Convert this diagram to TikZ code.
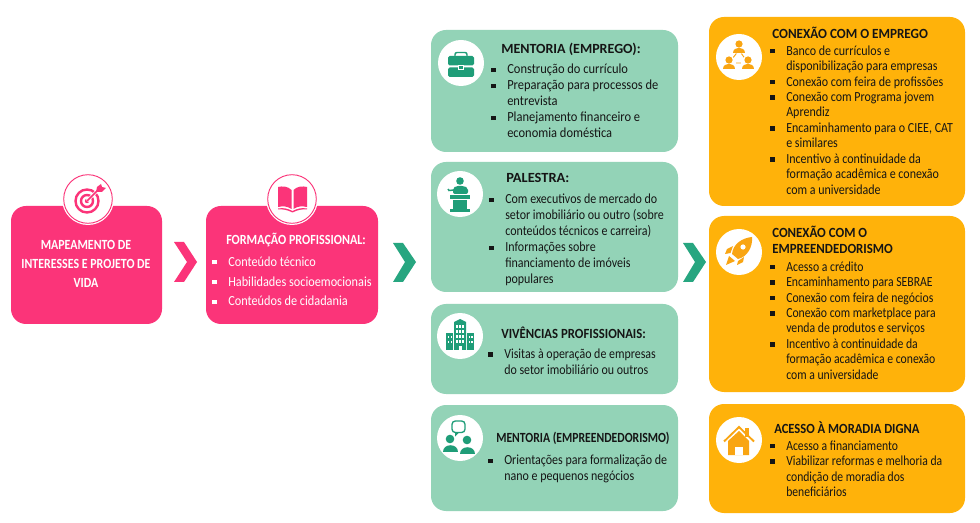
\documentclass[tikz,border=0pt]{standalone}
\usepackage{fontspec}
\setmainfont{Carlito}
\definecolor{pinkbox}{HTML}{FB3479}
\definecolor{greenbox}{HTML}{93D3B7}
\definecolor{orangebox}{HTML}{FFB20A}
\definecolor{chevgreen}{HTML}{27A680}
\definecolor{icongreen}{HTML}{1F9D78}
\definecolor{iconorange}{HTML}{F9A512}
\definecolor{ink}{HTML}{151515}
\newcommand{\itm}{\strut\llap{\rule[0.13em]{0.32em}{0.32em}\hspace{0.82em}}}
\newcommand{\fs}[1]{\fontspec[FakeStretch=#1]{Carlito}}
\tikzset{
 x=0.75pt,y=-0.75pt,
 panel/.style={rounded corners=11.25pt,draw=none,inner sep=0pt},
 disc/.style={circle,fill=white,draw=none,inner sep=0pt},
 ttl/.style={anchor=north west,inner sep=0pt,align=left,text=ink,font=\fs{#1}\fontsize{10.5pt}{12pt}\selectfont\bfseries},
 lsg/.style={anchor=north west,inner sep=0pt,align=left,text=ink,font=\fs{#1}\fontsize{10.4pt}{12pt}\selectfont},
 lso/.style={anchor=north west,inner sep=0pt,align=left,text=ink,font=\fs{#1}\fontsize{10.4pt}{11.6pt}\selectfont},
}
\begin{document}
\begin{tikzpicture}
\useasboundingbox (0,0) rectangle (980,523);
\fill[white] (0,0) rectangle (980,523);
% panels
\node[panel,fill=pinkbox,minimum width=113.25pt,minimum height=88.5pt] (p1) at (86.5,265) {};
\node[panel,fill=pinkbox,minimum width=129pt,minimum height=88.5pt] (p2) at (292,265) {};
\node[panel,fill=greenbox,minimum width=185.25pt,minimum height=91.5pt] (g1) at (554.5,91) {};
\node[panel,fill=greenbox,minimum width=185.25pt,minimum height=97.5pt] (g2) at (554.5,227) {};
\node[panel,fill=greenbox,minimum width=185.25pt,minimum height=67.5pt] (g3) at (554.5,349) {};
\node[panel,fill=greenbox,minimum width=185.25pt,minimum height=79.5pt] (g4) at (554.5,458) {};
\node[panel,fill=orangebox,minimum width=192pt,minimum height=141.75pt] (o1) at (837,111.5) {};
\node[panel,fill=orangebox,minimum width=192pt,minimum height=132pt] (o2) at (837,304) {};
\node[panel,fill=orangebox,minimum width=192pt,minimum height=81.75pt] (o3) at (837,458.5) {};
% discs
\node[disc,minimum size=39pt] (c1) at (88,199) {};
\node[disc,minimum size=39pt] (c2) at (292,199) {};
\draw[pinkbox,line width=0.7pt] (88,199) circle (24.3);
\draw[pinkbox,line width=0.7pt] (292,199) circle (24.3);
\node[disc,minimum size=34.5pt] (c3) at (461,63) {};
\node[disc,minimum size=34.5pt] (c4) at (460,194) {};
\node[disc,minimum size=34.5pt] (c5) at (460,336) {};
\node[disc,minimum size=34.5pt] (c6) at (460,438) {};
\node[disc,minimum size=34.5pt] (c7) at (739,57) {};
\node[disc,minimum size=34.5pt] (c8) at (739,252) {};
\node[disc,minimum size=34.5pt] (c9) at (739,440) {};
% chevrons
\fill[pinkbox] (174,242)--(184,242)--(197,262)--(184,282)--(174,282)--(187,262)--cycle;
\fill[chevgreen] (393,243)--(403,243)--(416,262)--(403,282)--(393,282)--(405,262)--cycle;
\fill[chevgreen] (683,243)--(693,243)--(706,262)--(693,282)--(683,282)--(695,262)--cycle;
% target
\begin{scope}[shift={(87,201)}]
 \draw[pinkbox,line width=1.8pt] (0,0) circle (11.5);
 \draw[pinkbox,line width=1.8pt] (0,0) circle (6);
 \fill[pinkbox] (0,0) circle (2.2);
 \draw[white,line width=2.2pt] (0,0)--(13,-13);
 \draw[pinkbox,line width=1.1pt] (0,0)--(13,-13);
 \fill[pinkbox] (9,-9)--(10,-14)--(14,-17)--(15,-14)--(19,-13)--(15,-9)--cycle;
\end{scope}
% book
\begin{scope}[shift={(292.5,198)}]
 \fill[pinkbox] (-1,-8) .. controls (-5,-12) and (-10,-12) .. (-14.5,-11) -- (-14.5,9) .. controls (-10,8) and (-5,8) .. (-1,11) -- cycle;
 \fill[pinkbox] (1,-8) .. controls (5,-12) and (10,-12) .. (14.5,-11) -- (14.5,9) .. controls (10,8) and (5,8) .. (1,11) -- cycle;
 \fill[pinkbox] (-14.5,10.5) .. controls (-9,9.5) and (-5,10.5) .. (0,13) .. controls (5,10.5) and (9,9.5) .. (14.5,10.5) -- (14.5,11.5) .. controls (9,11) and (5,12) .. (0,14.5) .. controls (-5,12) and (-9,11) .. (-14.5,11.5) -- cycle;
\end{scope}
% briefcase
\begin{scope}[shift={(461,64)}]
 \draw[icongreen,line width=1.1pt,rounded corners=1.5pt] (-6,-8)--(-6,-11.5)--(6,-11.5)--(6,-8);
 \fill[icongreen,rounded corners=1.2pt] (-13,-8) rectangle (13,1.5);
 \fill[icongreen,rounded corners=1.2pt] (-13,3.5) rectangle (13,13);
 \fill[white] (-3,1.5) rectangle (3,6);
 \fill[icongreen] (-1.8,2.5) rectangle (1.8,5);
\end{scope}
% speaker
\begin{scope}[shift={(460,194)}]
 \fill[icongreen] (0,-13) circle (3.8);
 \fill[icongreen,rounded corners=1.5pt] (-7,0)--(-7,-6)--(-4,-8)--(4,-8)--(8,-6)--(8,0)--cycle;
 \draw[icongreen,line width=1.1pt] (-6,-4)--(-11,-3.5)--(-12,-5);
 \fill[icongreen] (-10,1) rectangle (10,5);
 \fill[icongreen] (-7,6) rectangle (7,15);
 \fill[icongreen] (-10,15.5) rectangle (10,18);
\end{scope}
% buildings
\begin{scope}[shift={(460,336)}]
 \fill[icongreen] (-6,-14)--(0,-17)--(6,-14)--(6,14)--(-6,14)--cycle;
 \fill[icongreen] (-14,-3) rectangle (-6.8,14);
 \fill[icongreen] (6.8,-3) rectangle (13.5,14);
 \foreach \yy in {-11,-6,-1,4}{\foreach \xx in {-4,-1,2}{\fill[white] (\xx,\yy) rectangle ++(1.8,2.8);}}
 \foreach \yy in {0,5}{\foreach \xx in {-12.5,-9.5,8.5,11}{\fill[white] (\xx,\yy) rectangle ++(1.6,2.5);}}
 \fill[white] (-1.5,10) rectangle (1.5,14);
\end{scope}
% mentors
\begin{scope}[shift={(460,438)}]
 \fill[icongreen] (-10,1) circle (4.3);
 \fill[icongreen] (7,2) circle (4.3);
 \fill[icongreen] (-17.5,14) .. controls (-17.5,5) and (-2,5) .. (-2,14) -- cycle;
 \fill[icongreen] (-0.5,16) .. controls (-0.5,7) and (15,7) .. (15,16) -- cycle;
 \draw[icongreen,line width=1pt,rounded corners=2.5pt,fill=white] (-8,-17) rectangle (5,-5.5);
 \fill[icongreen] (-5,-5.5)--(-5,-1.5)--(-1,-5.5)--cycle;
\end{scope}
% network
\begin{scope}[shift={(739,57)}]
 \draw[iconorange,line width=0.7pt] (0,-7)--(-10,6)--(9,6)--cycle;
 \foreach \xx/\yy in {0/-13,-10/3,9/3}{
  \fill[white] (\xx,\yy+3) circle (7);
  \fill[iconorange] (\xx,\yy) circle (3.6);
  \fill[iconorange] (\xx-6,\yy+9) .. controls (\xx-6,\yy+2) and (\xx+6,\yy+2) .. (\xx+6,\yy+9) -- cycle;
 }
\end{scope}
% rocket
\begin{scope}[shift={(739,252)}]
 \fill[iconorange] (13,-15) .. controls (3,-14) and (-6,-8) .. (-7,2) -- (-1,7) .. controls (8,5) and (14,-5) .. (13,-15) -- cycle;
 \fill[white] (4,-5) circle (2.6);
 \fill[iconorange] (-14,2)--(-12,-3)--(-6,-6)--(-8.5,1)--cycle;
 \fill[iconorange] (-2,13)--(-1,9)--(5,5)--(4,10)--cycle;
 \fill[iconorange] (-13,13)--(-10,4)--(-4,9)--cycle;
\end{scope}
% house
\begin{scope}[shift={(739,440)}]
 \fill[iconorange] (-11,1)--(0,-9)--(10,1)--(10,15)--(-11,15)--cycle;
 \fill[iconorange] (6,-12) rectangle (10,-3);
 \draw[iconorange,line width=1.4pt] (-15,1.5)--(0,-13)--(15,1.5);
 \fill[white] (-4,7) rectangle (4,15);
\end{scope}
% texts
\node[anchor=center,inner sep=0pt,align=center,text=white,font=\fs{0.85}\fontsize{10.5pt}{14.2pt}\selectfont\bfseries] (t1) at (86,264) {MAPEAMENTO DE\\INTERESSES E PROJETO DE\\VIDA};
\node[ttl=0.865,text=white] (t2) at (226,233) {\strut FORMAÇÃO PROFISSIONAL:};
\node[lsg=0.885,text=white,font=\fs{0.885}\fontsize{10.4pt}{14.9pt}\selectfont] (t3) at (228,252) {\itm Conteúdo técnico\\\itm Habilidades socioemocionais\\\itm Conteúdos de cidadania};
\node[ttl=1.0] (t4) at (501,42.5) {\strut MENTORIA (EMPREGO):};
\node[lsg=0.90] (t5) at (507,62.5) {\itm Construção do currículo\\\itm Preparação para processos de\\entrevista\\\itm Planejamento financeiro e\\economia doméstica};
\node[ttl=1.03] (t6) at (506,171.5) {\strut PALESTRA:};
\node[lsg=0.865] (t7) at (505,192.5) {\itm Com executivos de mercado do\\setor imobiliário ou outro (sobre\\conteúdos técnicos e carreira)\\\itm Informações sobre\\financiamento de imóveis\\populares};
\node[ttl=0.91] (t8) at (501,326.5) {\strut VIVÊNCIAS PROFISSIONAIS:};
\node[lsg=0.86] (t9) at (504,347) {\itm Visitas à operação de empresas\\do setor imobiliário ou outros};
\node[ttl=0.836] (t10) at (496,431.5) {\strut MENTORIA (EMPREENDEDORISMO)};
\node[lsg=0.865] (t11) at (504,453.5) {\itm Orientações para formalização de\\nano e pequenos negócios};
\node[ttl=0.94] (t12) at (772,27) {\strut CONEXÃO COM O EMPREGO};
\node[lso=0.865] (t13) at (786,44) {\itm Banco de currículos e\\disponibilização para empresas\\\itm Conexão com feira de profissões\\\itm Conexão com Programa jovem\\Aprendiz\\\itm Encaminhamento para o CIEE, CAT\\e similares\\\itm Incentivo à continuidade da\\formação acadêmica e conexão\\com a universidade};
\node[ttl=0.92] (t14) at (772,226) {\strut CONEXÃO COM O\\EMPREENDEDORISMO};
\node[lso=0.845] (t15) at (786,260) {\itm Acesso a crédito\\\itm Encaminhamento para SEBRAE\\\itm Conexão com feira de negócios\\\itm Conexão com marketplace para\\venda de produtos e serviços\\\itm Incentivo à continuidade da\\formação acadêmica e conexão\\com a universidade};
\node[ttl=0.90] (t16) at (774,421) {\strut ACESSO À MORADIA DIGNA};
\node[lso=0.84] (t17) at (786,439) {\itm Acesso a financiamento\\\itm Viabilizar reformas e melhoria da\\condição de moradia dos\\beneficiários};
\end{tikzpicture}
\end{document}
